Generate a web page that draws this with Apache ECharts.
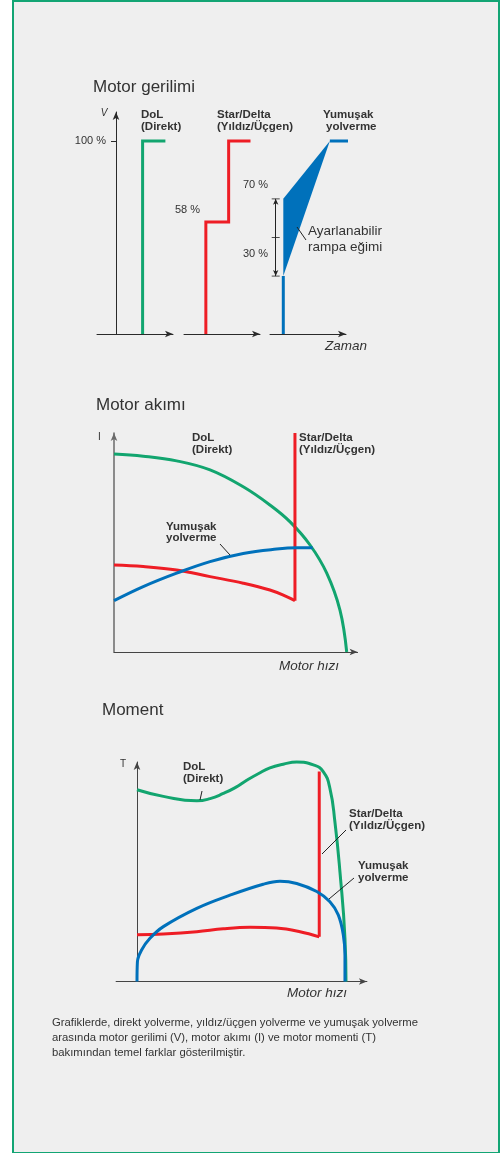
<!DOCTYPE html>
<html><head><meta charset="utf-8">
<script src="https://cdn.jsdelivr.net/npm/echarts@6/dist/echarts.min.js"></script>
<style>html,body{margin:0;padding:0;background:#fff}#c{width:501px;height:1153px}</style>
</head><body><div id="c"></div>
<script>
// ---------- DATA ----------
// Motor voltage (% of nominal) vs time (arbitrary units)
const voltTickValues = [100];
const voltDoL = [[2.8, 0], [2.8, 100], [5.2, 100]];
const voltStarDelta = [[2.3, 0], [2.3, 58], [4.7, 58], [4.7, 100], [7.0, 100]];
const voltSoftStart = [[1.4, 0], [1.4, 30]];
const voltSoftRamp = [[1.4, 70], [6.3, 100], [1.4, 30]];
const voltSoftEnd = [[6.3, 100], [8.7, 100]];
const rampRangeMarks = [[0.6, 30], [0.6, 50], [0.6, 70]];

// Motor current (x rated) vs motor speed (% synchronous)
const curDoL = [[0, 6.33], [12.6, 6.26], [27, 6.11], [41.4, 5.82], [55.7, 5.28], [67.2, 4.70], [75.9, 4.16], [84.5, 3.42], [91.7, 2.52], [97.4, 1.34], [100.3, 0]];
const curStarDelta = [[0, 2.78], [12.6, 2.73], [27, 2.62], [41.4, 2.41], [55.7, 2.20], [67.2, 1.98], [74.4, 1.77], [78, 1.64]];
const curStarDeltaSwitch = [[78, 1.64], [78, 7]];
const curSoft = [[0, 1.64], [12.6, 2.09], [27, 2.52], [41.4, 2.89], [55.7, 3.15], [70.1, 3.29], [78.8, 3.33], [85.6, 3.33]];

// Motor torque (x rated) vs motor speed (% synchronous)
const tqDoL = [[0, 2.62], [12.6, 2.53], [28.6, 2.47], [35, 2.50], [41.3, 2.57], [47, 2.65], [52.5, 2.75], [58, 2.84], [63.6, 2.92], [70, 2.97], [76.4, 3.0], [84.4, 2.96], [89.1, 2.87], [92.3, 2.64], [94.7, 2.18], [97.1, 1.50], [99.5, 0.59], [100, 0]];
const tqStarDelta = [[0, 0.64], [12.6, 0.65], [28.6, 0.68], [41.3, 0.72], [54.1, 0.74], [66.8, 0.73], [78, 0.68], [87.2, 0.61]];
const tqStarDeltaSwitch = [[87.2, 0.61], [87.2, 2.87]];
const tqSoft = [[0, 0], [0.2, 0.27], [2.2, 0.43], [6.2, 0.59], [12.6, 0.75], [28.6, 1.0], [44.5, 1.18], [60.4, 1.33], [68.4, 1.37], [76.4, 1.34], [86, 1.23], [92.3, 1.09], [96.3, 0.91], [98.7, 0.64], [99.5, 0.36], [99.5, 0]];

// ---------- STYLE ----------
const GREEN = '#12a56f', RED = '#ee1d25', BLUE = '#0071bb', TXT = '#333333', AX = '#2a2a2a';
const FONT = '"Liberation Sans", Arial, Helvetica, sans-serif';

function txt(x, y, text, size, opt) {
  opt = opt || {};
  return { type: 'text', x: x, y: y, z: 100, silent: true,
    style: { text: text, fill: opt.fill || TXT, fontSize: size, fontFamily: FONT,
      fontWeight: opt.bold ? 'bold' : 'normal', fontStyle: opt.italic ? 'italic' : 'normal',
      align: opt.align || 'left', verticalAlign: 'middle' } };
}
function seg(x1, y1, x2, y2) {
  return { type: 'line', z: 100, silent: true, shape: { x1: x1, y1: y1, x2: x2, y2: y2 }, style: { stroke: '#222', lineWidth: 1 } };
}
function axisArrow(color, width, onZero) {
  return { show: true, onZero: onZero !== false, symbol: ['none', 'arrow'], symbolSize: [5, 8], lineStyle: { color: color, width: width } };
}
function xAx(grid, min, max, color, width) {
  return { type: 'value', gridIndex: grid, min: min, max: max, axisLine: axisArrow(color || AX, width || 1),
    axisTick: { show: false }, axisLabel: { show: false }, splitLine: { show: false } };
}
function yAx(grid, min, max, show, color, width) {
  return { type: 'value', gridIndex: grid, min: min, max: max, show: show,
    axisLine: axisArrow(color || AX, width || 1),
    axisTick: { show: false }, axisLabel: { show: false }, splitLine: { show: false } };
}
function grid(left, top, width, height) {
  return { left: left, top: top, width: width, height: height, containLabel: false, outerBoundsMode: 'none' };
}
function line(data, xi, color, opt) {
  opt = opt || {};
  return { type: 'line', xAxisIndex: xi, yAxisIndex: xi, data: data, showSymbol: false, symbol: 'none',
    smooth: opt.smooth || false, clip: false, silent: true, animation: false,
    lineStyle: { color: color, width: opt.width || 3, cap: 'butt', join: 'miter' }, z: opt.z || 3 };
}

// voltage axis of the first panel: sits 19px inside the grid's left edge (time = 0)
const yV0 = yAx(0, 0, 115, true);
yV0.position = 'left';
yV0.offset = -19;
yV0.axisLine = axisArrow(AX, 1, false);
yV0.axisTick = { show: true, length: 5, customValues: voltTickValues, lineStyle: { color: AX } };
yV0.axisLabel = { show: true, customValues: voltTickValues, formatter: '{value} %', margin: 10, color: TXT, fontSize: 11, fontFamily: FONT };

const option = {
  backgroundColor: '#ffffff',
  animation: false,
  grid: [
    grid(97, 112, 76, 222),
    grid(184, 112, 76, 222),
    grid(270, 112, 76, 222),
    grid(114, 433, 243.6, 219),
    grid(116.1, 762, 250.8, 219.5)
  ],
  xAxis: [
    xAx(0, -2, 6), xAx(1, 0, 8), xAx(2, 0, 8),
    xAx(3, 0, 105, '#444', 1), xAx(4, -10, 110, '#444', 1)
  ],
  yAxis: [
    yV0, yAx(1, 0, 115, false), yAx(2, 0, 115, false),
    yAx(3, 0, 7, true, '#6a6a6a', 1.5), yAx(4, 0, 3, true, '#444', 1)
  ],
  series: [
    line(voltDoL, 0, GREEN),
    line(voltStarDelta, 1, RED),
    line(voltSoftStart, 2, BLUE),
    line(voltSoftEnd, 2, BLUE),
    { type: 'custom', xAxisIndex: 2, yAxisIndex: 2, data: voltSoftRamp, clip: false, silent: true, z: 3,
      encode: { x: 0, y: 1 },
      renderItem: function (params, api) {
        if (params.dataIndex !== 0) return null;
        return { type: 'polygon', shape: { points: voltSoftRamp.map(function (p) { return api.coord(p); }) }, style: { fill: BLUE } };
      } },
    { type: 'line', xAxisIndex: 2, yAxisIndex: 2, data: [rampRangeMarks[0], rampRangeMarks[2]], showSymbol: false, symbol: 'none',
      lineStyle: { width: 0 }, silent: true, clip: false,
      markLine: { silent: true, symbol: ['arrow', 'arrow'], symbolSize: [4, 6], label: { show: false },
        lineStyle: { color: '#222', width: 1, type: 'solid' },
        data: [[{ coord: rampRangeMarks[0] }, { coord: rampRangeMarks[2] }]] } },
    { type: 'scatter', xAxisIndex: 2, yAxisIndex: 2, data: rampRangeMarks, symbol: 'rect', symbolSize: [8, 1],
      itemStyle: { color: '#222' }, silent: true, clip: false },

    line(curDoL, 3, GREEN, { smooth: 0.4 }),
    line(curStarDelta, 3, RED, { smooth: 0.4 }),
    line(curStarDeltaSwitch, 3, RED),
    line(curSoft, 3, BLUE, { smooth: 0.4 }),

    line(tqDoL, 4, GREEN, { smooth: 0.5 }),
    line(tqStarDelta, 4, RED, { smooth: 0.4 }),
    line(tqStarDeltaSwitch, 4, RED),
    line(tqSoft, 4, BLUE, { smooth: 0.4 })
  ],
  graphic: [
    { type: 'rect', z: -10, silent: true, shape: { x: 13, y: 1, width: 486, height: 1152 }, style: { fill: '#efefef', stroke: '#13a574', lineWidth: 2 } },
    // top chart
    txt(93, 87, 'Motor gerilimi', 17),
    txt(104, 113, 'V', 10, { italic: true, align: 'center' }),
    txt(141, 115, 'DoL', 11.5, { bold: true }),
    txt(141, 127, '(Direkt)', 11.5, { bold: true }),
    txt(217, 115, 'Star/Delta', 11.5, { bold: true }),
    txt(217, 127, '(Yıldız/Üçgen)', 11.5, { bold: true }),
    txt(323, 115, 'Yumuşak', 11.5, { bold: true }),
    txt(326, 127, 'yolverme', 11.5, { bold: true }),
    txt(200, 210, '58 %', 11, { align: 'right' }),
    txt(268, 185, '70 %', 11, { align: 'right' }),
    txt(268, 254, '30 %', 11, { align: 'right' }),
    txt(308, 231, 'Ayarlanabilir', 13.5),
    txt(308, 247, 'rampa eğimi', 13.5),
    seg(297, 227, 306, 240),
    txt(325, 346, 'Zaman', 13.5, { italic: true }),
    // middle chart
    txt(96, 405, 'Motor akımı', 17),
    txt(98, 437, 'I', 10),
    txt(192, 438, 'DoL', 11.5, { bold: true }),
    txt(192, 450, '(Direkt)', 11.5, { bold: true }),
    txt(299, 438, 'Star/Delta', 11.5, { bold: true }),
    txt(299, 450, '(Yıldız/Üçgen)', 11.5, { bold: true }),
    txt(166, 527, 'Yumuşak', 11.5, { bold: true }),
    txt(166, 538, 'yolverme', 11.5, { bold: true }),
    seg(220, 544, 230, 555),
    txt(279, 666, 'Motor hızı', 13.5, { italic: true }),
    // bottom chart
    txt(102, 710, 'Moment', 17),
    txt(120, 764, 'T', 10),
    txt(183, 767, 'DoL', 11.5, { bold: true }),
    txt(183, 779, '(Direkt)', 11.5, { bold: true }),
    seg(202, 791, 200, 800),
    txt(349, 814, 'Star/Delta', 11.5, { bold: true }),
    txt(349, 826, '(Yıldız/Üçgen)', 11.5, { bold: true }),
    seg(346, 830, 322, 854),
    txt(358, 866, 'Yumuşak', 11.5, { bold: true }),
    txt(358, 878, 'yolverme', 11.5, { bold: true }),
    seg(354, 878, 329, 899),
    txt(287, 993, 'Motor hızı', 13.5, { italic: true }),
    // caption
    txt(52, 1023, 'Grafiklerde, direkt yolverme, yıldız/üçgen yolverme ve yumuşak yolverme', 11.3),
    txt(52, 1038, 'arasında motor gerilimi (V), motor akımı (I) ve motor momenti (T)', 11.3),
    txt(52, 1053, 'bakımından temel farklar gösterilmiştir.', 11.3)
  ]
};

const chart = echarts.init(document.getElementById('c'), null, { renderer: 'canvas' });
chart.setOption(option);
</script>
</body></html>
